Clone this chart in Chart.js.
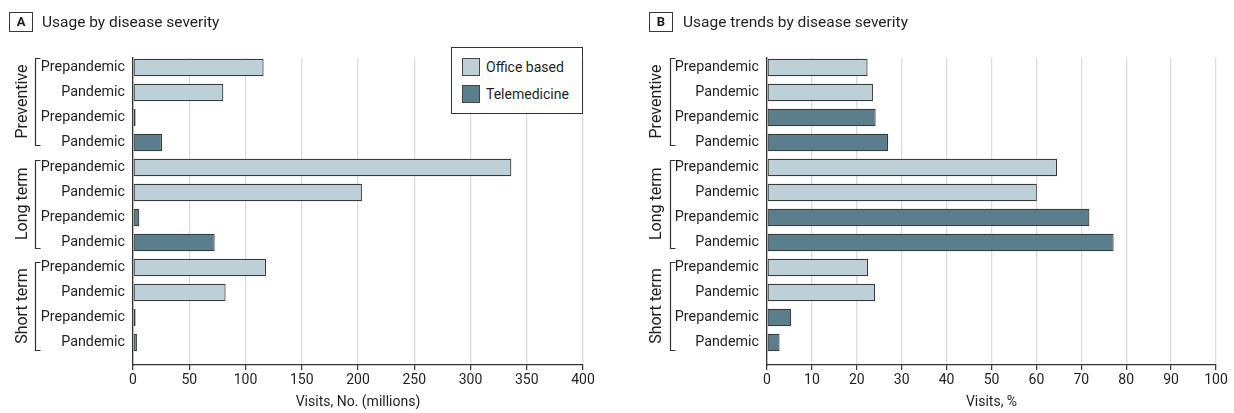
<!DOCTYPE html>
<html>
<head>
<meta charset="utf-8">
<script src="https://cdn.jsdelivr.net/npm/chart.js@4.4.1/dist/chart.umd.min.js"></script>
<style>
  html, body { margin: 0; padding: 0; background: #fff; }
  body { width: 1234px; height: 413px; position: relative; overflow: hidden;
         font-family: Roboto, "Noto Sans", sans-serif; color: #1f1f1f; }
  .panel { position: absolute; top: 0; width: 617px; height: 413px; }
  .panel canvas { position: absolute; left: 0; top: 0; }
  .tag { position: absolute; top: 12px; width: 22px; height: 18px; border: 1.3px solid #3a3a3a;
         font-weight: bold; font-size: 13px; line-height: 18px; text-align: center; color: #1a1a1a; }
  .title { position: absolute; top: 11px; font-size: 15.5px; line-height: 22px; color: #1f1f1f; white-space: nowrap; }
  .legend { position: absolute; left: 451px; top: 47px; width: 130px; height: 65px; border: 1px solid #333;
            background: #fff; z-index: 2; }
  .legend .item { position: absolute; left: 10px; height: 18px; font-size: 14px; line-height: 18px; white-space: nowrap; }
  .legend .sw { display: inline-block; width: 16px; height: 16px; border: 1px solid #444; vertical-align: top; margin-right: 6px; }
</style>
</head>
<body>
<div class="panel" style="left:0">
  <canvas id="chartA" width="617" height="413"></canvas>
  <div class="tag" style="left:9px">A</div>
  <div class="title" style="left:42px">Usage by disease severity</div>
  <div class="legend">
    <div class="item" style="top:10px"><span class="sw" style="background:#bdd0d8"></span>Office based</div>
    <div class="item" style="top:37px"><span class="sw" style="background:#5b7e8c"></span>Telemedicine</div>
  </div>
</div>
<div class="panel" style="left:617px">
  <canvas id="chartB" width="617" height="413"></canvas>
  <div class="tag" style="left:32px">B</div>
  <div class="title" style="left:66px">Usage trends by disease severity</div>
</div>

<script>
// Disease-severity groups and the time periods within each visit type
const groups = ['Preventive', 'Long term', 'Short term'];
const periods = ['Prepandemic', 'Pandemic'];
const seriesNames = ['Office based', 'Telemedicine'];

// Panel A: visits, millions (per group: prepandemic, pandemic)
const officeVisits = [116.1, 80.3, 336.3, 203.5, 118.2, 82.3];
const teleVisits   = [2.3, 25.8, 5.6, 72.6, 2.3, 3.5];

// Panel B: share of visits, %
const officeShare = [22.4, 23.6, 64.6, 60.1, 22.5, 24.1];
const teleShare   = [24.2, 27.0, 71.8, 77.2, 5.4, 2.8];

const officeColor = '#bdd0d8';
const teleColor = '#5b7e8c';
const textColor = '#1f1f1f';
const fontFamily = 'Roboto, "Noto Sans", sans-serif';

const rowsPerGroup = periods.length * seriesNames.length;
const rowLabels = [];
groups.forEach(() => seriesNames.forEach(() => periods.forEach(p => rowLabels.push(p))));

// Each visit type gets its own rows: office rows first, then telemedicine rows
function rowsFor(values, seriesIdx) {
  const pts = [];
  groups.forEach((g, gi) => {
    periods.forEach((p, pi) => {
      pts.push({ x: values[gi * periods.length + pi], y: gi * rowsPerGroup + seriesIdx * periods.length + pi });
    });
  });
  return pts;
}

// Brackets and rotated group names drawn left of the row labels
const groupBrackets = {
  id: 'groupBrackets',
  afterDraw(chart, args, opts) {
    const { ctx } = chart;
    const y = chart.scales.y;
    ctx.save();
    ctx.strokeStyle = '#333';
    ctx.lineWidth = 1.2;
    ctx.fillStyle = textColor;
    ctx.font = '16px ' + fontFamily;
    ctx.textAlign = 'center';
    ctx.textBaseline = 'middle';
    groups.forEach((name, g) => {
      const first = g * rowsPerGroup;
      const last = first + rowsPerGroup - 1;
      const topPx = y.getPixelForValue(first - 0.39 + 0.08 * g);
      const bottomPx = y.getPixelForValue(last + 0.11 + 0.1 * g);
      const top = Math.round(topPx) + 0.5;
      const bottom = Math.round(bottomPx) + 0.5;
      const bx = opts.x + 0.5;
      ctx.beginPath();
      ctx.moveTo(bx + 5, top);
      ctx.lineTo(bx, top);
      ctx.lineTo(bx, bottom);
      ctx.lineTo(bx + 5, bottom);
      ctx.stroke();
      const mid = (topPx + bottomPx) / 2;
      ctx.save();
      ctx.translate(opts.labelX, mid);
      ctx.rotate(-Math.PI / 2);
      ctx.fillText(name, 0, 0);
      ctx.restore();
    });
    ctx.restore();
  }
};

function makeChart(id, officeVals, teleVals, cfg) {
  return new Chart(document.getElementById(id), {
    type: 'bar',
    data: {
      datasets: [
        { label: seriesNames[0], data: rowsFor(officeVals, 0), backgroundColor: officeColor },
        { label: seriesNames[1], data: rowsFor(teleVals, 1), backgroundColor: teleColor }
      ]
    },
    options: {
      indexAxis: 'y',
      responsive: false,
      animation: false,
      devicePixelRatio: 1,
      layout: { padding: { left: 0, right: cfg.padRight, top: 58, bottom: 0 } },
      datasets: {
        bar: {
          borderColor: '#3a3a3a',
          borderWidth: 1.2,
          borderSkipped: false,
          categoryPercentage: 1,
          barPercentage: 0.7
        }
      },
      plugins: {
        legend: { display: false },
        tooltip: { enabled: false },
        groupBrackets: { x: cfg.bracketX, labelX: cfg.labelX }
      },
      scales: {
        x: {
          type: 'linear',
          stacked: true,
          min: 0,
          max: cfg.max,
          afterFit: s => { s.height = 48; },
          ticks: { stepSize: cfg.step, color: textColor, padding: 2, font: { family: fontFamily, size: 14 } },
          grid: { color: '#dcdcdc', lineWidth: 1.3, tickLength: 5, tickColor: '#333', tickWidth: 1.2 },
          border: { display: true, color: '#333', width: 1.3 },
          title: { display: true, text: cfg.title, color: textColor, padding: { top: 0, bottom: 2 },
                   font: { family: fontFamily, size: 14 } }
        },
        y: {
          type: 'linear',
          stacked: true,
          reverse: true,
          offset: false,
          min: -0.38,
          max: 11.9,
          afterFit: s => { s.width = cfg.axisWidth; },
          afterBuildTicks: s => { s.ticks = rowLabels.map((_, i) => ({ value: i })); },
          ticks: {
            autoSkip: false,
            padding: 8,
            color: textColor,
            font: { family: fontFamily, size: 14.3 },
            callback: v => rowLabels[v] ?? ''
          },
          grid: { display: false, drawTicks: false, offset: false },
          border: { display: true, color: '#333', width: 1.3 }
        }
      }
    },
    plugins: [groupBrackets]
  });
}

makeChart('chartA', officeVisits, teleVisits,
  { max: 400, step: 50, title: 'Visits, No. (millions)', axisWidth: 133, padRight: 34, bracketX: 35, labelX: 23 });
makeChart('chartB', officeShare, teleShare,
  { max: 100, step: 10, title: 'Visits, %', axisWidth: 150, padRight: 18, bracketX: 53, labelX: 40 });
</script>
</body>
</html>
